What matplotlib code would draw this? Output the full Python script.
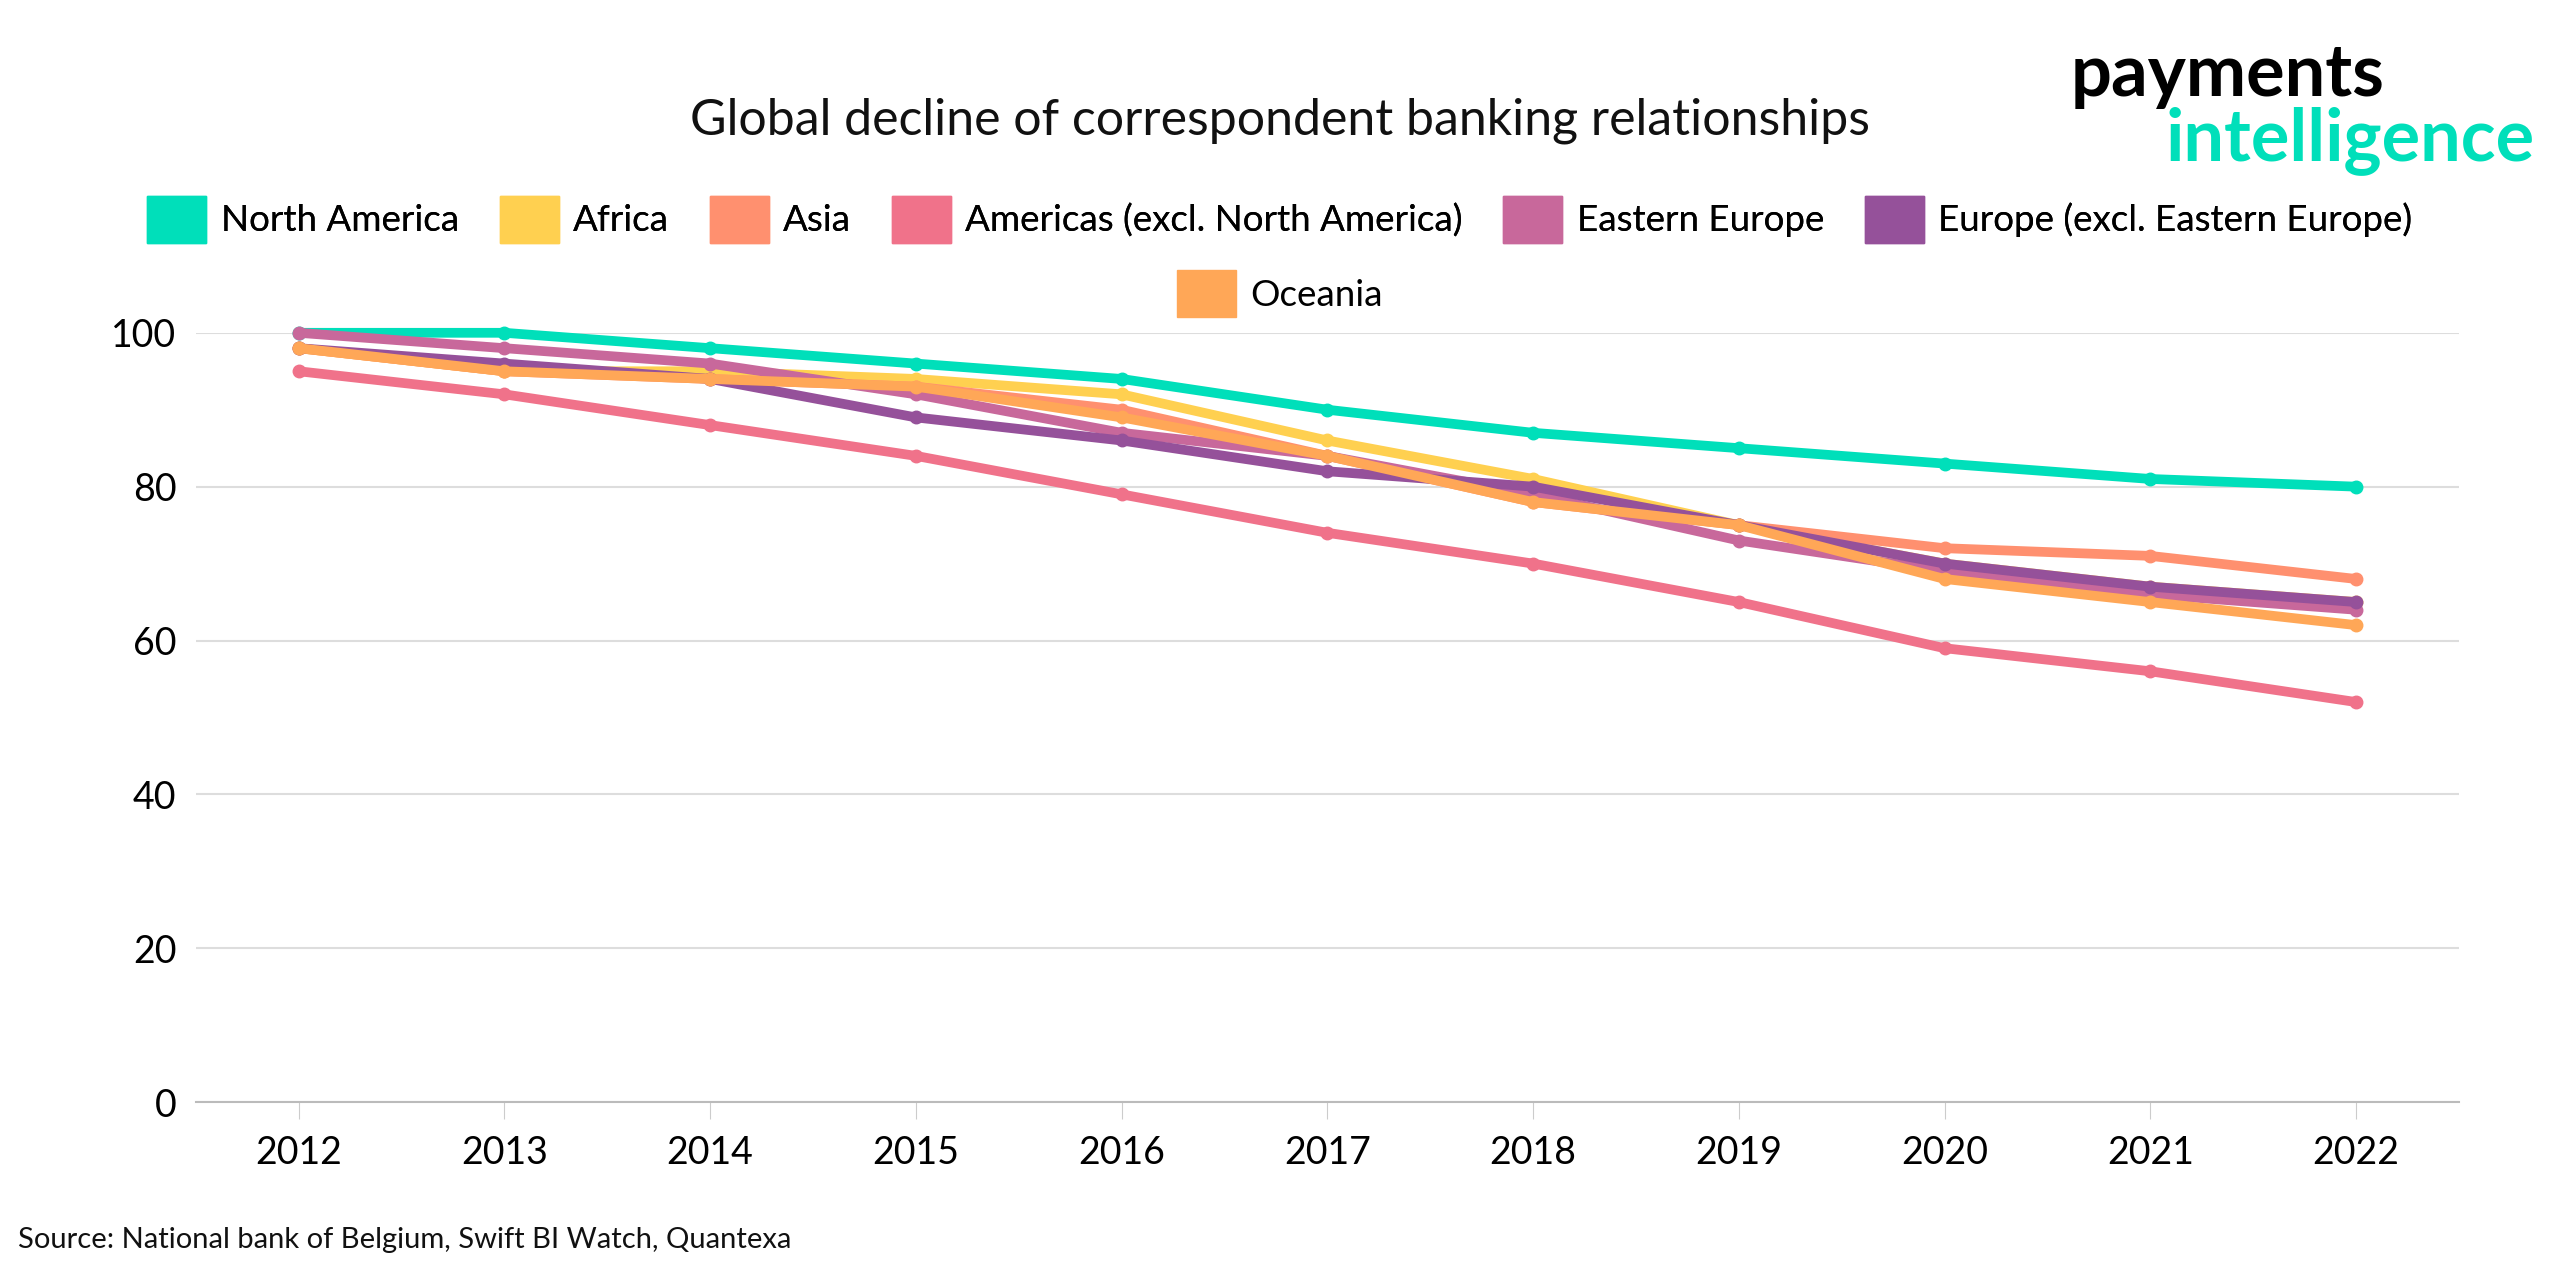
import matplotlib
matplotlib.use("Agg")
import matplotlib.pyplot as plt

years = [2012, 2013, 2014, 2015, 2016, 2017, 2018, 2019, 2020, 2021, 2022]
north_america = [100, 100, 98, 96, 94, 90, 87, 85, 83, 81, 80]
africa = [98, 95, 95, 94, 92, 86, 81, 75, 70, 67, 65]
asia = [98, 95, 94, 93, 90, 84, 78, 75, 72, 71, 68]
americas = [95, 92, 88, 84, 79, 74, 70, 65, 59, 56, 52]
eastern_europe = [100, 98, 96, 92, 87, 84, 79, 73, 69, 66, 64]
europe = [98, 96, 94, 89, 86, 82, 80, 75, 70, 67, 65]
oceania = [98, 95, 94, 93, 89, 84, 78, 75, 68, 65, 62]

series = [
    ("North America", north_america, "#00DFBA"),
    ("Africa", africa, "#FFD050"),
    ("Asia", asia, "#FF906F"),
    ("Americas (excl. North America)", americas, "#F0728A"),
    ("Eastern Europe", eastern_europe, "#C8689B"),
    ("Europe (excl. Eastern Europe)", europe, "#95519A"),
    ("Oceania", oceania, "#FFA757"),
]

plt.rcParams['font.family'] = ['Lato', 'DejaVu Sans']
fig = plt.figure(figsize=(25.6, 12.8), dpi=100)
ax = fig.add_axes([0.0765, 0.139, 0.884, 0.601])
x = list(range(len(years)))
for name, vals, c in series:
    ax.plot(x, vals, color=c, lw=7, marker='o', ms=9, label=name, solid_capstyle='round')
ax.set_xlim(-0.5, len(years) - 0.5)
ax.set_ylim(0, 100)
ax.set_yticks([0, 20, 40, 60, 80, 100])
ax.set_xticks(x)
ax.set_xticklabels([str(y) for y in years])
ax.tick_params(axis='both', labelsize=27, length=0, pad=14)
ax.tick_params(axis='x', length=12, color='#cccccc', pad=12)
ax.grid(axis='y', color='#dddddd', lw=1.5)
ax.set_axisbelow(True)
for s in ['top', 'right', 'left']:
    ax.spines[s].set_visible(False)
ax.spines['bottom'].set_color('#bbbbbb')
ax.spines['bottom'].set_linewidth(1.5)
for l in ax.lines:
    l.set_clip_on(False)

def legend(items, y):
    handles = [plt.Rectangle((0, 0), 1, 1, color=c) for _, _, c in items]
    lg = fig.legend(handles, [n for n, _, _ in items], loc='upper center', bbox_to_anchor=(0.5, y),
                    ncol=len(items), frameon=False, fontsize=26.5, handlelength=1.6, handleheight=1.6,
                    columnspacing=1.1, handletextpad=0.4)
    return lg

lg1 = legend(series[:6], 0.873)
fig.add_artist(lg1)
legend(series[6:], 0.815)
fig.text(0.5, 0.895, "Global decline of correspondent banking relationships", ha='center',
         fontsize=36, color='#111111')
fig.text(0.87, 0.925, "payments", fontsize=52, color='black', ha='center', fontweight='bold')
fig.text(0.918, 0.875, "intelligence", fontsize=52, color='#00DFBA', ha='center', fontweight='bold')
fig.text(0.007, 0.025, "Source: National bank of Belgium, Swift BI Watch, Quantexa", fontsize=21, color='#111111')
fig.savefig("out.png", dpi=100, facecolor='white')
